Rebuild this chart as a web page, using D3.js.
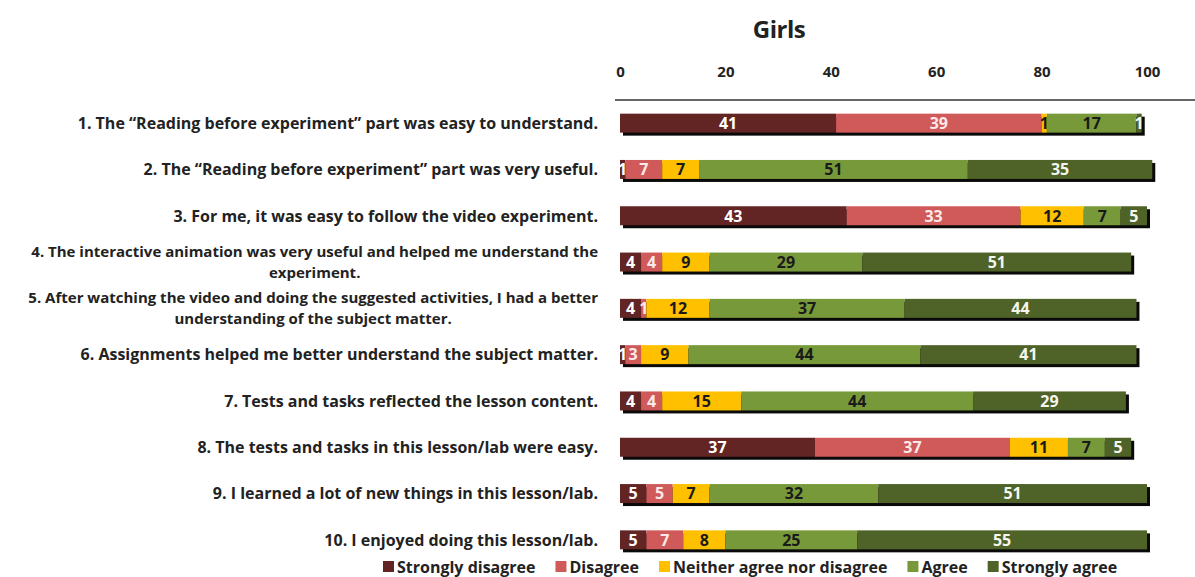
<!DOCTYPE html>
<html>
<head>
<meta charset="utf-8">
<script src="https://cdn.jsdelivr.net/npm/d3@7"></script>
<style>
  html, body { margin: 0; padding: 0; background: #ffffff; }
  svg { display: block; }
  text { font-family: "Open Sans", sans-serif; font-weight: bold; }
</style>
</head>
<body>
<svg id="chart" width="1195" height="577"></svg>
<script>
// Survey statements (each may wrap onto two lines)
const statements = [
  ["1. The \u201CReading before experiment\u201D part was easy to understand."],
  ["2. The \u201CReading before experiment\u201D part was very useful."],
  ["3. For me, it was easy to follow the video experiment."],
  ["4. The interactive animation was very useful and helped me understand the", "experiment."],
  ["5. After watching the video and doing the suggested activities, I had a better", "understanding of the subject matter."],
  ["6. Assignments helped me better understand the subject matter."],
  ["7. Tests and tasks reflected the lesson content."],
  ["8. The tests and tasks in this lesson/lab were easy."],
  ["9. I learned a lot of new things in this lesson/lab."],
  ["10. I enjoyed doing this lesson/lab."]
];

const responses = ["Strongly disagree", "Disagree", "Neither agree nor disagree", "Agree", "Strongly agree"];

// Percentages per response level, one entry per statement
const stronglyDisagree = [41, 1, 43, 4, 4, 1, 4, 37, 5, 5];
const disagree         = [39, 7, 33, 4, 1, 3, 4, 37, 5, 7];
const neither          = [1, 7, 12, 9, 12, 9, 15, 11, 7, 8];
const agree            = [17, 51, 7, 29, 37, 44, 44, 7, 32, 25];
const stronglyAgree    = [1, 35, 5, 51, 44, 41, 29, 5, 51, 55];

const axisTicks = [0, 20, 40, 60, 80, 100];

const colors = ["#632523", "#d05a59", "#ffc000", "#77993a", "#4f6228"];
const labelColors = ["#ffffff", "#fbe9e9", "#1a1a1a", "#1a1a1a", "#f4f6ee"];

const series = [stronglyDisagree, disagree, neither, agree, stronglyAgree];
const rows = statements.map((s, i) => {
  const r = { id: i };
  responses.forEach((k, j) => { r[k] = series[j][i]; });
  return r;
});

const svg = d3.select("#chart");

const x = d3.scaleLinear().domain([0, 100]).range([620, 1147]);
const y = d3.scaleBand()
  .domain(rows.map(r => r.id))
  .range([100, 563])
  .paddingInner(0.59)
  .paddingOuter(0.295);

const stacked = d3.stack().keys(responses)(rows);

// Title
svg.append("text")
  .attr("x", 779).attr("y", 38)
  .attr("text-anchor", "middle")
  .attr("font-size", 24)
  .attr("fill", "#222")
  .style("letter-spacing", "-0.5px")
  .text("Girls");

// Top axis
const axis = d3.axisTop(x).tickValues(axisTicks).tickSize(0).tickPadding(0);
const gAxis = svg.append("g").attr("transform", "translate(0,77)").call(axis);
gAxis.select(".domain").remove();
gAxis.selectAll("text")
  .attr("font-size", 15)
  .attr("fill", "#222")
  .attr("dy", 0)
  .style("font-family", "'Open Sans', sans-serif")
  .style("font-weight", "bold");

svg.append("line")
  .attr("x1", 615).attr("x2", 1195)
  .attr("y1", 100).attr("y2", 100)
  .attr("stroke", "#333").attr("stroke-width", 1.5);

// Drop shadows under each bar
svg.append("g").selectAll("rect")
  .data(rows)
  .join("rect")
  .attr("x", x(0) + 3)
  .attr("y", d => y(d.id) + 3)
  .attr("width", d => x(d3.sum(responses, k => d[k])) - x(0))
  .attr("height", y.bandwidth())
  .attr("fill", "#0a0a0a");

// Stacked segments
const layers = svg.append("g").selectAll("g")
  .data(stacked)
  .join("g")
  .attr("fill", (d, i) => colors[i]);

layers.selectAll("rect")
  .data(d => d)
  .join("rect")
  .attr("x", d => x(d[0]))
  .attr("y", d => y(d.data.id))
  .attr("width", d => x(d[1]) - x(d[0]))
  .attr("height", y.bandwidth());

// Value labels
const valueLabels = svg.append("g").selectAll("g")
  .data(stacked)
  .join("g")
  .attr("fill", (d, i) => labelColors[i]);

valueLabels.selectAll("text")
  .data(d => d)
  .join("text")
  .attr("x", d => (x(d[0]) + x(d[1])) / 2)
  .attr("y", d => y(d.data.id) + y.bandwidth() / 2)
  .attr("dy", "0.36em")
  .attr("text-anchor", "middle")
  .attr("font-size", 16)
  .text(d => d[1] - d[0]);

// Statement labels, squeezed when a line would run past the left edge
const labelRight = 598;
const maxLineWidth = 588;
const lineGap = 21;
const catG = svg.append("g").attr("fill", "#222");

function fitLine(t) {
  const w = t.node().getComputedTextLength();
  if (w > maxLineWidth) {
    t.attr("textLength", maxLineWidth).attr("lengthAdjust", "spacingAndGlyphs");
    return maxLineWidth;
  }
  return w;
}

rows.forEach((r, i) => {
  const lines = statements[i];
  const cy = y(r.id) + y.bandwidth() / 2;
  if (lines.length === 1) {
    const t = catG.append("text")
      .attr("x", labelRight).attr("y", cy)
      .attr("dy", "0.36em")
      .attr("text-anchor", "end")
      .attr("font-size", 16)
      .text(lines[0]);
    fitLine(t);
  } else {
    const first = catG.append("text")
      .attr("x", labelRight).attr("y", cy - lineGap / 2)
      .attr("dy", "0.36em")
      .attr("text-anchor", "end")
      .attr("font-size", 15)
      .text(lines[0]);
    const w = fitLine(first);
    catG.append("text")
      .attr("x", labelRight - w / 2).attr("y", cy + lineGap / 2)
      .attr("dy", "0.36em")
      .attr("text-anchor", "middle")
      .attr("font-size", 15)
      .text(lines[1]);
  }
});

// Legend
const legend = svg.append("g").attr("transform", "translate(383,567)");
let lx = 0;
responses.forEach((name, i) => {
  legend.append("rect")
    .attr("x", lx).attr("y", -6)
    .attr("width", 11).attr("height", 11)
    .attr("fill", colors[i]);
  const t = legend.append("text")
    .attr("x", lx + 14).attr("y", 0)
    .attr("dy", "0.36em")
    .attr("font-size", 16)
    .attr("fill", "#222")
    .text(name);
  lx += 14 + t.node().getComputedTextLength() + 20;
});
</script>
</body>
</html>
